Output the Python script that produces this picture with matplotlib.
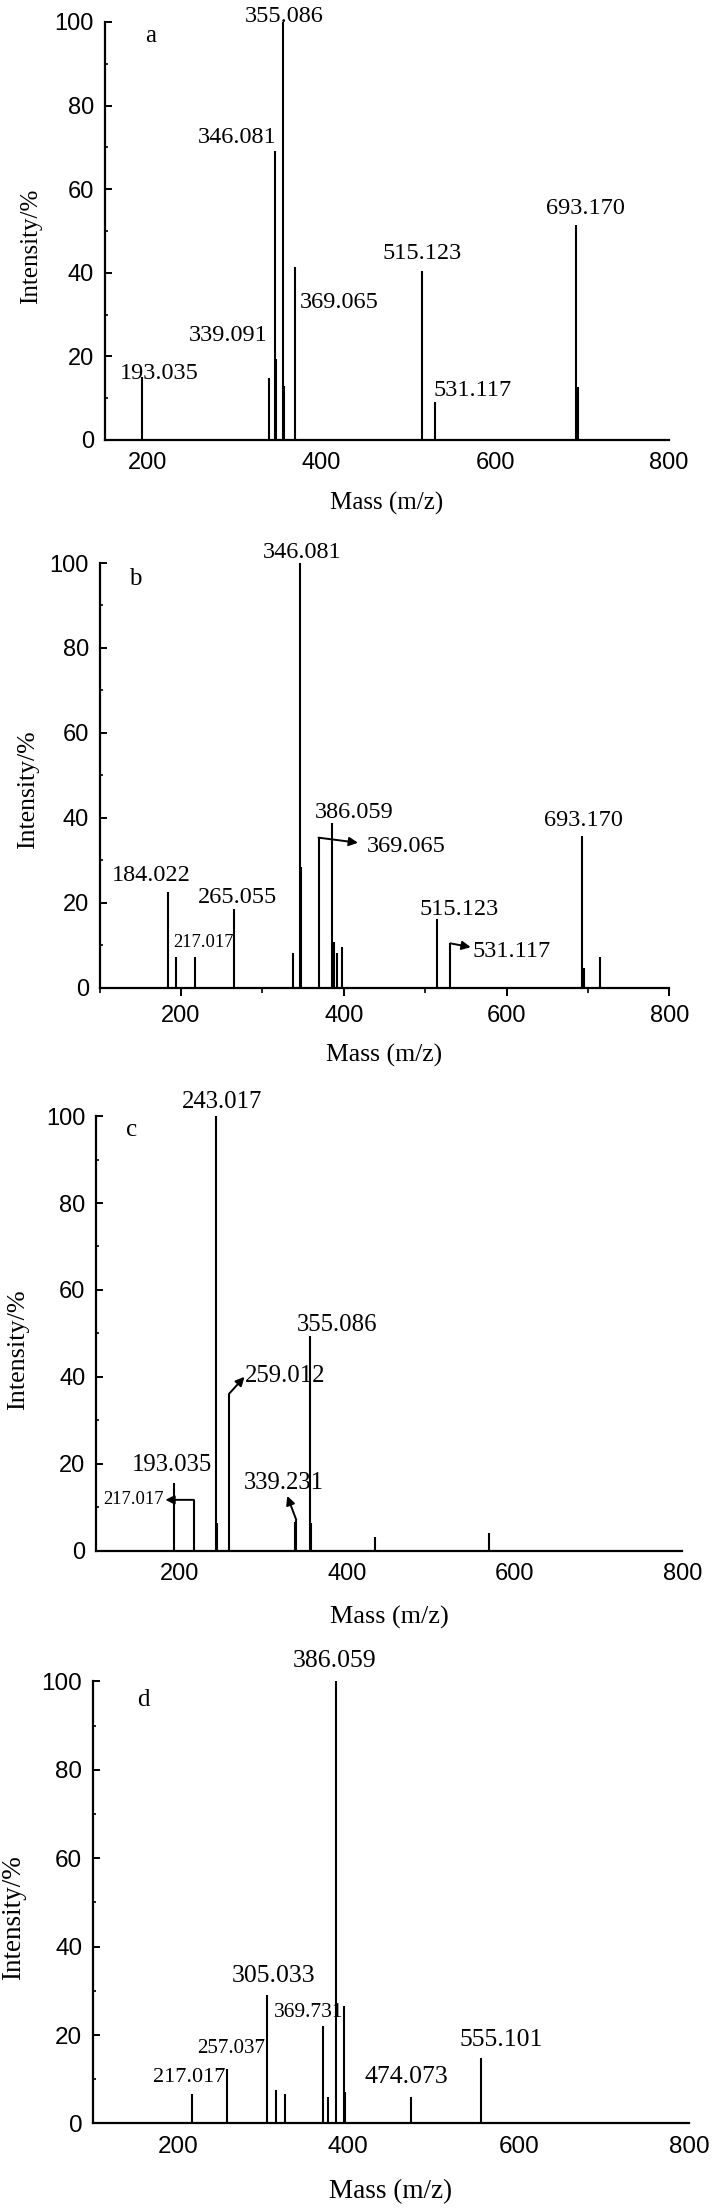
import matplotlib
matplotlib.use("Agg")
import matplotlib.pyplot as plt
from matplotlib.ticker import MultipleLocator

plt.rcParams["font.family"] = ["Liberation Sans", "DejaVu Sans"]
SERIF = ["Liberation Serif", "DejaVu Serif"]

# ---- spectrum a ----
A_MZ = [193.035, 339.091, 346.081, 347.7, 355.086, 357.0, 369.065, 515.123, 531.117, 693.170, 695.0]
A_INT = [15.0, 14.9, 69.2, 19.3, 100, 12.9, 41.3, 40.5, 9.1, 51.4, 12.6]
A_LABELS = ["355.086", "346.081", "339.091", "193.035", "369.065", "515.123", "531.117", "693.170"]

# ---- spectrum b ----
B_MZ = [184.022, 194.5, 217.017, 265.055, 337.9, 346.081, 347.6, 369.065, 386.059, 388.1,
        391.4, 397.5, 515.123, 531.117, 693.170, 694.6, 714.6]
B_INT = [22.6, 7.1, 7.3, 18.5, 8.2, 100, 28.4, 35.3, 38.8, 10.8,
         8.2, 9.6, 16.1, 10.4, 35.6, 4.6, 7.1]
B_LABELS = ["346.081", "386.059", "369.065", "184.022", "217.017", "265.055", "515.123", "531.117", "693.170"]

# ---- spectrum c ----
C_MZ = [193.035, 217.017, 243.017, 245.0, 259.012, 337.5, 339.231, 355.086, 356.6, 433.7, 569.2]
C_INT = [15.5, 11.7, 100, 6.3, 36.1, 6.5, 7.1, 49.3, 6.4, 3.1, 4.0]
C_LABELS = ["243.017", "355.086", "259.012", "193.035", "339.231", "217.017"]

# ---- spectrum d ----
D_MZ = [217.017, 257.037, 305.033, 314.7, 325.2, 369.731, 375.6, 386.059, 395.2, 396.6, 474.073, 555.101]
D_INT = [6.7, 12.2, 29.1, 7.6, 6.7, 22.0, 6.0, 100, 26.6, 7.2, 5.9, 14.9]
D_LABELS = ["386.059", "305.033", "369.731", "257.037", "217.017", "474.073", "555.101"]

# label anchors (left edge, baseline) in data units, and font sizes
A_LABEL_AT = [(312.1, 100.1), (257.8, 71.1), (247.3, 23.7), (167.4, 14.7), (375.3, 31.6),
              (470.0, 43.3), (529.4, 10.6), (657.8, 54.0)]
A_LABEL_SIZE = [17.5] * 8
B_LABEL_AT = [(301.2, 101.2), (364.0, 40.0), (428.8, 32.0), (115.1, 25.1), (191.1, 9.5),
              (221.1, 20.0), (493.1, 17.1), (557.7, 7.1), (646.3, 38.1)]
B_LABEL_SIZE = [17.5, 17.5, 17.5, 17.5, 13.3, 17.5, 17.5, 17.5, 17.5]
C_LABEL_AT = [(203.2, 101.9), (340.4, 50.5), (277.8, 38.8), (142.9, 18.4), (276.8, 14.2), (109.2, 10.7)]
C_LABEL_SIZE = [17.8, 17.8, 17.8, 17.8, 17.8, 13.3]
D_LABEL_AT = [(334.6, 103.2), (263.6, 31.9), (313.0, 24.1), (222.1, 16.0), (170.6, 9.4),
              (418.7, 9.1), (529.9, 17.6)]
D_LABEL_SIZE = [18.5, 18.5, 15.5, 15, 16, 18.5, 18.5]

# arrows: (index of the peak they leave from, tip x, tip y)
B_ARROWS = [(7, 417.5, 34.1), (13, 556.0, 9.5)]
C_ARROWS = [(1, 183.0, 11.7), (4, 277.5, 40.0), (6, 328.5, 12.6)]

# axes boxes in pixels on the 712 x 2209 canvas: left, right, top, bottom
W, H = 712, 2209
PANELS = [
    dict(letter="a", at=(202.6, 96.7), mz=A_MZ, inten=A_INT, labels=A_LABELS, label_at=A_LABEL_AT,
         label_size=A_LABEL_SIZE, arrows=[], box=(104.5, 669, 22, 440), xmin=150, xticks=False,
         fs=18, tfs=17, xpad=8.6, xlab_y=-0.152, ylab=(-0.130, 0.464)),
    dict(letter="b", at=(143.5, 96.3), mz=B_MZ, inten=B_INT, labels=B_LABELS, label_at=B_LABEL_AT,
         label_size=B_LABEL_SIZE, arrows=B_ARROWS, box=(99.5, 669.3, 563, 987.5), xmin=100, xticks=True,
         fs=18.5, tfs=17, xpad=6.3, xlab_y=-0.161, ylab=(-0.125, 0.465)),
    dict(letter="c", at=(142.9, 96.7), mz=C_MZ, inten=C_INT, labels=C_LABELS, label_at=C_LABEL_AT,
         label_size=C_LABEL_SIZE, arrows=C_ARROWS, box=(95.8, 682.3, 1116.1, 1550.7), xmin=100, xticks=False,
         fs=18.8, tfs=17, xpad=9.1, xlab_y=-0.154, ylab=(-0.132, 0.462)),
    dict(letter="d", at=(159.9, 95.8), mz=D_MZ, inten=D_INT, labels=D_LABELS, label_at=D_LABEL_AT,
         label_size=D_LABEL_SIZE, arrows=[], box=(92.7, 689.2, 1681.4, 2123.4), xmin=100, xticks=False,
         fs=19.5, tfs=17.5, xpad=9.4, xlab_y=-0.155, ylab=(-0.132, 0.466)),
]


def draw_panel(fig, p):
    l, r, t, b = p["box"]
    ax = fig.add_axes([l / W, 1 - b / H, (r - l) / W, (b - t) / H])
    ax.vlines(p["mz"], 0, p["inten"], color="black", lw=1.5)

    ax.set_xlim(p["xmin"], 800)
    ax.set_ylim(0, 100)
    for side in ("top", "right"):
        ax.spines[side].set_visible(False)
    for side in ("left", "bottom"):
        ax.spines[side].set_linewidth(1.6)

    ax.xaxis.set_major_locator(MultipleLocator(200))
    ax.yaxis.set_major_locator(MultipleLocator(20))
    ax.yaxis.set_minor_locator(MultipleLocator(10))
    if p["xticks"]:
        ax.xaxis.set_minor_locator(MultipleLocator(100))
        ax.tick_params(axis="x", which="major", direction="out", length=6, width=1.4, pad=p["xpad"])
        ax.tick_params(axis="x", which="minor", direction="out", length=3.5, width=1.2)
    else:
        ax.tick_params(axis="x", which="both", length=0, pad=p["xpad"])
    ax.tick_params(axis="y", which="major", direction="in", length=5, width=1.4, pad=7.5)
    ax.tick_params(axis="y", which="minor", direction="in", length=2.5, width=1.2)
    ax.tick_params(labelsize=p["tfs"])

    for txt, (x, y), s in zip(p["labels"], p["label_at"], p["label_size"]):
        ax.text(x, y, txt, ha="left", va="baseline", fontsize=s, family=SERIF)

    for i, tx, ty in p["arrows"]:
        ax.annotate("", xy=(tx, ty), xytext=(p["mz"][i], p["inten"][i]),
                    arrowprops=dict(arrowstyle="-|>", color="black", lw=1.4,
                                    mutation_scale=13, shrinkA=0, shrinkB=0))

    ax.text(p["at"][0], p["at"][1], p["letter"], ha="center", va="center",
            fontsize=18, family=SERIF)

    ax.set_xlabel("Mass (m/z)", fontsize=p["fs"], family=SERIF)
    ax.set_ylabel("Intensity/%", fontsize=p["fs"], family=SERIF)
    ax.xaxis.label.set_va("center")
    ax.yaxis.label.set_va("center")
    ax.xaxis.set_label_coords(0.5, p["xlab_y"])
    ax.yaxis.set_label_coords(*p["ylab"])
    return ax


fig = plt.figure(figsize=(W / 100, H / 100), dpi=100)
for p in PANELS:
    draw_panel(fig, p)
fig.savefig("out.png", dpi=100)
